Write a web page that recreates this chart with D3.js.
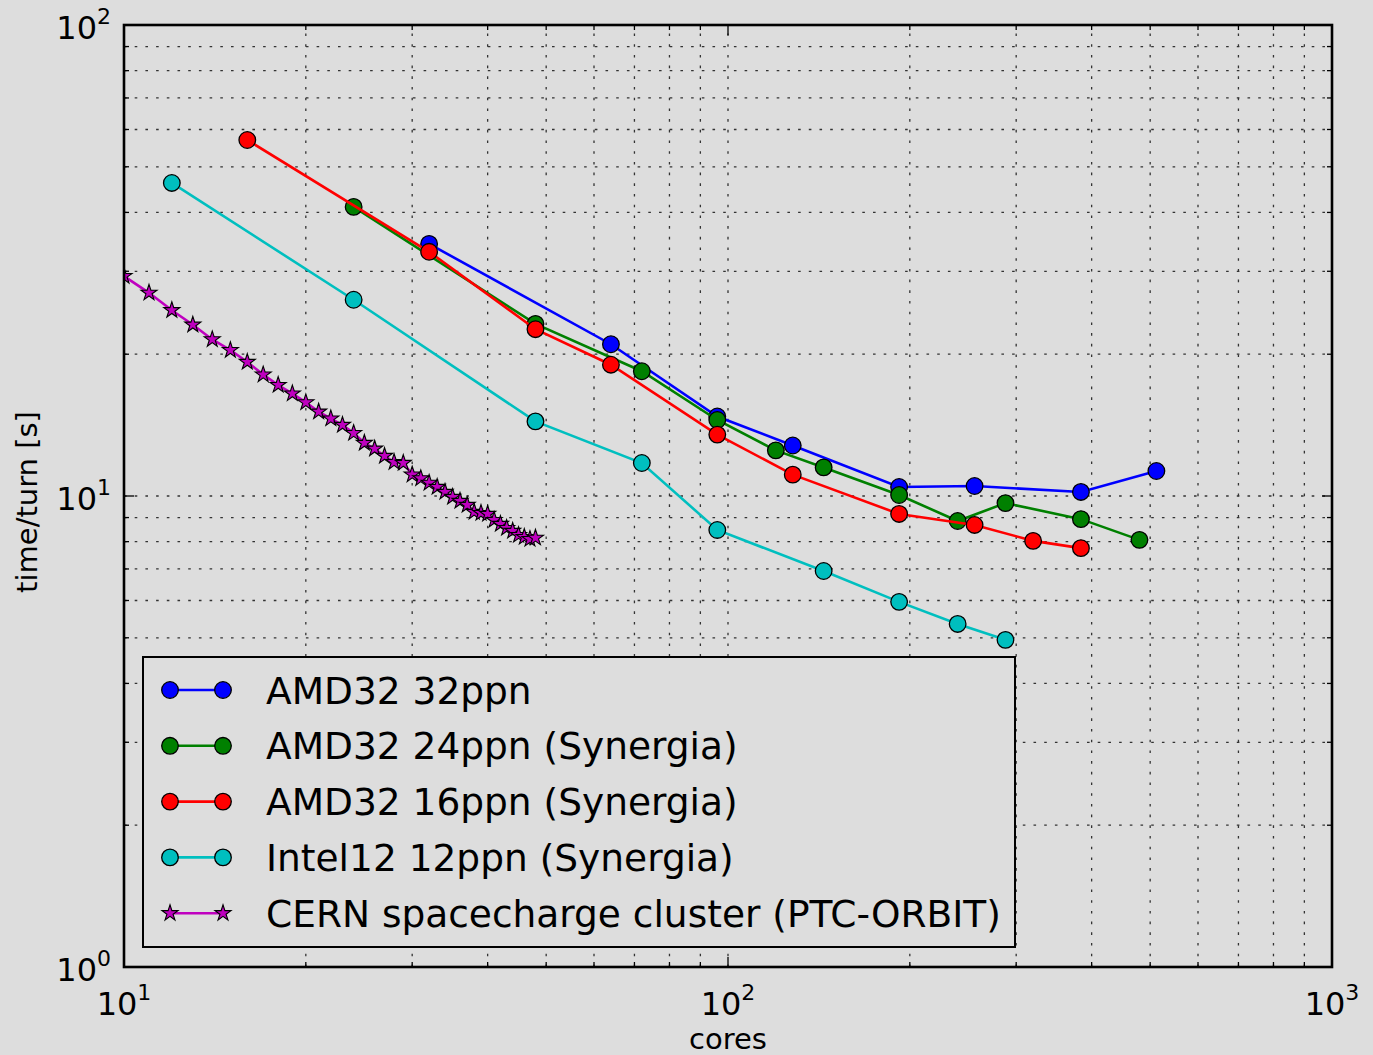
<!DOCTYPE html>
<html>
<head>
<meta charset="utf-8">
<script src="https://cdn.jsdelivr.net/npm/d3@7"></script>
<style>
    html, body { margin: 0; padding: 0; background: #dddddd; }
    svg { display: block; font-family: "DejaVu Sans", sans-serif; }
</style>
</head>
<body>
<svg id="chart" width="1373" height="1055"></svg>
<script>
// ---- data (cores vs time/turn in seconds) ----
const amd32Cores = [32, 64, 96, 128, 192, 256, 384, 512];
const amd32Time  = [34.3, 21.0, 14.75, 12.8, 10.45, 10.5, 10.2, 11.3];

const amd24Cores = [24, 48, 72, 96, 120, 144, 192, 240, 288, 384, 480];
const amd24Time  = [41.1, 23.2, 18.4, 14.5, 12.5, 11.5, 10.05, 8.85, 9.66, 8.93, 8.07];

const amd16Cores = [16, 32, 48, 64, 96, 128, 192, 256, 320, 384];
const amd16Time  = [57.0, 33.0, 22.6, 19.0, 13.5, 11.1, 9.16, 8.68, 8.03, 7.75];

const intelCores = [12, 24, 48, 72, 96, 144, 192, 240, 288];
const intelTime  = [46.2, 26.1, 14.4, 11.75, 8.47, 6.93, 5.96, 5.35, 4.95];

const cernCores = [10, 11, 12, 13, 14, 15, 16, 17, 18, 19, 20, 21, 22, 23, 24, 25, 26, 27, 28, 29,
                   30, 31, 32, 33, 34, 35, 36, 37, 38, 39, 40, 41, 42, 43, 44, 45, 46, 47, 48];
const cernTime  = [29.3, 27.0, 24.8, 23.1, 21.5, 20.4, 19.25, 18.1, 17.2, 16.5, 15.8, 15.1, 14.6, 14.15,
                   13.6, 12.96, 12.6, 12.16, 11.8, 11.75, 11.1, 10.9, 10.66, 10.45, 10.2, 9.95, 9.76, 9.57,
                   9.25, 9.2, 9.16, 8.89, 8.72, 8.55, 8.43, 8.26, 8.18, 8.1, 8.15];

const seriesNames  = ["AMD32 32ppn", "AMD32 24ppn (Synergia)", "AMD32 16ppn (Synergia)",
                      "Intel12 12ppn (Synergia)", "CERN spacecharge cluster (PTC-ORBIT)"];
const seriesColors = ["#0000ff", "#008000", "#ff0000", "#00bfbf", "#bf00bf"];

const xTickExps = [1, 2, 3];
const yTickExps = [0, 1, 2];

// ---- layout ----
const bg = "#dddddd";
const plot = { left: 124, right: 1332, top: 25, bottom: 967 };

const series = [
    { name: seriesNames[0], color: seriesColors[0], marker: "circle", x: amd32Cores, y: amd32Time },
    { name: seriesNames[1], color: seriesColors[1], marker: "circle", x: amd24Cores, y: amd24Time },
    { name: seriesNames[2], color: seriesColors[2], marker: "circle", x: amd16Cores, y: amd16Time },
    { name: seriesNames[3], color: seriesColors[3], marker: "circle", x: intelCores, y: intelTime },
    { name: seriesNames[4], color: seriesColors[4], marker: "star",   x: cernCores,  y: cernTime }
];

const svg = d3.select("#chart");

const x = d3.scaleLog().domain([10, 1000]).range([plot.left, plot.right]);
const y = d3.scaleLog().domain([1, 100]).range([plot.bottom, plot.top]);

svg.append("rect").attr("width", 1373).attr("height", 1055).attr("fill", bg);

svg.append("defs").append("clipPath").attr("id", "plot-clip")
    .append("rect")
    .attr("x", plot.left).attr("y", plot.top)
    .attr("width", plot.right - plot.left).attr("height", plot.bottom - plot.top);

// grid (major + minor, dotted)
const xAll = x.ticks();
const yAll = y.ticks();
const isPow10 = v => Math.abs(Math.log10(v) - Math.round(Math.log10(v))) < 1e-9;

const grid = svg.append("g")
    .attr("stroke", "#333")
    .attr("stroke-width", 1.3)
    .attr("stroke-dasharray", "2.6,8.1");

grid.selectAll("line.gx")
    .data(xAll.filter(v => v > 10 && v < 1000))
    .join("line")
    .attr("x1", d => x(d)).attr("x2", d => x(d))
    .attr("y1", plot.bottom).attr("y2", plot.top);

grid.selectAll("line.gy")
    .data(yAll.filter(v => v > 1 && v < 100))
    .join("line")
    .attr("y1", d => y(d)).attr("y2", d => y(d))
    .attr("x1", plot.left).attr("x2", plot.right);

// ticks, inward on all four sides
const ticks = svg.append("g").attr("stroke", "#000").attr("stroke-width", 1.3);
xAll.forEach(v => {
    const len = isPow10(v) ? 10 : 5;
    ticks.append("line").attr("x1", x(v)).attr("x2", x(v)).attr("y1", plot.bottom).attr("y2", plot.bottom - len);
    ticks.append("line").attr("x1", x(v)).attr("x2", x(v)).attr("y1", plot.top).attr("y2", plot.top + len);
});
yAll.forEach(v => {
    const len = isPow10(v) ? 10 : 5;
    ticks.append("line").attr("y1", y(v)).attr("y2", y(v)).attr("x1", plot.left).attr("x2", plot.left + len);
    ticks.append("line").attr("y1", y(v)).attr("y2", y(v)).attr("x1", plot.right).attr("x2", plot.right - len);
});

// series
const line = d3.line().x(d => x(d[0])).y(d => y(d[1]));
const star = d3.symbol().type(d3.symbolStar).size(80);

const dataG = svg.append("g").attr("clip-path", "url(#plot-clip)");
series.forEach(s => {
    const pts = s.x.map((v, i) => [v, s.y[i]]);
    const g = dataG.append("g");
    g.append("path")
        .attr("d", line(pts))
        .attr("fill", "none")
        .attr("stroke", s.color)
        .attr("stroke-width", 2.6);
    if (s.marker === "circle") {
        g.selectAll("circle").data(pts).join("circle")
            .attr("cx", d => x(d[0])).attr("cy", d => y(d[1]))
            .attr("r", 8.3)
            .attr("fill", s.color)
            .attr("stroke", "#000").attr("stroke-width", 1.3);
    } else {
        g.selectAll("path.m").data(pts).join("path")
            .attr("class", "m")
            .attr("d", star)
            .attr("transform", d => `translate(${x(d[0])},${y(d[1])})`)
            .attr("fill", s.color)
            .attr("stroke", "#000").attr("stroke-width", 1.1);
    }
});

// frame
svg.append("rect")
    .attr("x", plot.left).attr("y", plot.top)
    .attr("width", plot.right - plot.left).attr("height", plot.bottom - plot.top)
    .attr("fill", "none").attr("stroke", "#000").attr("stroke-width", 2.6);

// tick labels 10^n
function powLabel(g, e, px, py, anchor) {
    const t = g.append("text")
        .attr("x", px).attr("y", py)
        .attr("text-anchor", anchor)
        .attr("font-size", 32)
        .attr("fill", "#000");
    t.append("tspan").text("10");
    t.append("tspan").attr("dy", -15).attr("font-size", 22).text(e);
}
const labels = svg.append("g");
xTickExps.forEach(e => powLabel(labels, e, x(Math.pow(10, e)), 1015, "middle"));
yTickExps.forEach(e => powLabel(labels, e, 111, y(Math.pow(10, e)) + 14, "end"));

// axis titles
svg.append("text")
    .attr("x", (plot.left + plot.right) / 2).attr("y", 1049)
    .attr("text-anchor", "middle").attr("font-size", 29).attr("fill", "#000")
    .text("cores");
svg.append("text")
    .attr("transform", `translate(37,${(plot.top + plot.bottom) / 2 + 6}) rotate(-90)`)
    .attr("text-anchor", "middle").attr("font-size", 29).attr("fill", "#000")
    .text("time/turn [s]");

// legend
const leg = { x: 143, y: 657, w: 872, h: 290, row0: 690, rowStep: 55.8 };
const legend = svg.append("g");
legend.append("rect")
    .attr("x", leg.x).attr("y", leg.y).attr("width", leg.w).attr("height", leg.h)
    .attr("fill", bg).attr("stroke", "#000").attr("stroke-width", 2);

series.forEach((s, i) => {
    const ry = leg.row0 + i * leg.rowStep;
    const g = legend.append("g");
    g.append("line")
        .attr("x1", 170).attr("x2", 223).attr("y1", ry).attr("y2", ry)
        .attr("stroke", s.color).attr("stroke-width", 2.6);
    [170, 223].forEach(mx => {
        if (s.marker === "circle") {
            g.append("circle").attr("cx", mx).attr("cy", ry).attr("r", 8.3)
                .attr("fill", s.color).attr("stroke", "#000").attr("stroke-width", 1.3);
        } else {
            g.append("path").attr("d", star).attr("transform", `translate(${mx},${ry})`)
                .attr("fill", s.color).attr("stroke", "#000").attr("stroke-width", 1.1);
        }
    });
    g.append("text")
        .attr("x", 266).attr("y", ry + 13.5)
        .attr("font-size", 37.5).attr("fill", "#000")
        .text(s.name);
});
</script>
</body>
</html>
